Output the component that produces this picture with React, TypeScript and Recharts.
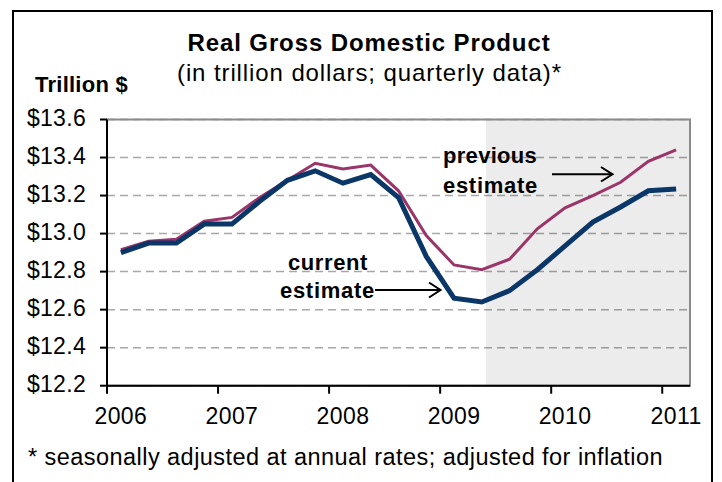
import React from 'react';
import {
  LineChart,
  Line,
  XAxis,
  YAxis,
  CartesianGrid,
  ReferenceArea,
} from 'recharts';

// ---- data ----
const quarters = [
  '2006Q1', '2006Q2', '2006Q3', '2006Q4',
  '2007Q1', '2007Q2', '2007Q3', '2007Q4',
  '2008Q1', '2008Q2', '2008Q3', '2008Q4',
  '2009Q1', '2009Q2', '2009Q3', '2009Q4',
  '2010Q1', '2010Q2', '2010Q3', '2010Q4',
  '2011Q1',
];
const currentEstimate = [
  12.9, 12.95, 12.95, 13.05,
  13.05, 13.17, 13.28, 13.33,
  13.265, 13.31, 13.19, 12.88,
  12.66, 12.64, 12.7, 12.81,
  12.935, 13.06, 13.14, 13.225,
  13.235,
];
const previousEstimate = [
  12.915, 12.96, 12.97, 13.065,
  13.085, 13.19, 13.28, 13.37,
  13.34, 13.36, 13.225, 12.99,
  12.835, 12.81, 12.865, 13.025,
  13.135, 13.2, 13.27, 13.38,
  13.44,
];
const yearLabels = ['2006', '2007', '2008', '2009', '2010', '2011'];
const yearTickPositions = [0, 4, 8, 12, 16, 20];
const yTicks = [12.2, 12.4, 12.6, 12.8, 13.0, 13.2, 13.4, 13.6];
const shadeStart = 13.65; // start of shaded period (in quarter units)

const data = quarters.map((q, i) => ({
  q,
  pos: i + 0.5,
  current: currentEstimate[i],
  previous: previousEstimate[i],
}));

// ---- layout ----
const W = 722;
const H = 482;
const PLOT_LEFT = 107;
const PLOT_RIGHT = 690;
const PLOT_TOP = 119.5;
const PLOT_BOTTOM = 385.7;
const Y_AXIS_W = 80;
const X_AXIS_H = 40;
const HALF_BAND = (PLOT_RIGHT - PLOT_LEFT) / quarters.length / 2;

const FONT = '"Liberation Sans", Arial, sans-serif';
const NAVY = '#0B3768';
const PLUM = '#9B3468';

const XTick = (props: any) => {
  const { x, y, payload } = props;
  const idx = yearTickPositions.indexOf(payload.value);
  return (
    <text
      x={x + HALF_BAND}
      y={y}
      dy="0.71em"
      textAnchor="middle"
      fontFamily={FONT}
      fontSize={23}
      letterSpacing={0.4}
      fill="#000"
    >
      {yearLabels[idx]}
    </text>
  );
};

const YTick = (props: any) => {
  const { x, y, payload } = props;
  return (
    <text
      x={x}
      y={y - 1.5}
      dy="0.355em"
      textAnchor="end"
      fontFamily={FONT}
      fontSize={23}
      letterSpacing={0.3}
      fill="#000"
    >
      {'$' + Number(payload.value).toFixed(1)}
    </text>
  );
};

export default function App() {
  return (
    <div style={{ position: 'absolute', left: 0, top: 0, width: W, height: H, background: '#fff' }}>
      <LineChart
        width={W}
        height={H}
        data={data}
        margin={{
          top: PLOT_TOP,
          right: W - PLOT_RIGHT,
          left: PLOT_LEFT - Y_AXIS_W,
          bottom: H - PLOT_BOTTOM - X_AXIS_H,
        }}
      >
        <ReferenceArea
          x1={shadeStart}
          x2={quarters.length}
          y1={12.2}
          y2={13.6}
          fill="#000"
          fillOpacity={0.075}
          stroke="none"
          isFront={false}
        />
        <CartesianGrid
          vertical={false}
          stroke="#A8A8A8"
          strokeWidth={1.5}
          strokeDasharray="8 5"
        />
        <ReferenceArea
          x1={0}
          x2={quarters.length}
          y1={12.2}
          y2={13.6}
          fill="none"
          stroke="#8A8A8A"
          strokeWidth={2}
        />
        <XAxis
          dataKey="pos"
          type="number"
          domain={[0, quarters.length]}
          ticks={yearTickPositions}
          interval={0}
          height={X_AXIS_H}
          axisLine={{ stroke: '#000', strokeWidth: 2 }}
          tickLine={{ stroke: '#000', strokeWidth: 2 }}
          tickSize={8}
          tickMargin={14}
          tick={<XTick />}
          allowDataOverflow
        />
        <YAxis
          type="number"
          domain={[12.2, 13.6]}
          ticks={yTicks}
          interval={0}
          width={Y_AXIS_W}
          axisLine={{ stroke: '#000', strokeWidth: 2 }}
          tickLine={{ stroke: '#000', strokeWidth: 2 }}
          tickSize={7}
          tickMargin={14}
          tick={<YTick />}
          allowDataOverflow
        />
        <Line
          type="linear"
          dataKey="previous"
          stroke={PLUM}
          strokeWidth={3}
          dot={false}
          activeDot={false}
          isAnimationActive={false}
        />
        <Line
          type="linear"
          dataKey="current"
          stroke={NAVY}
          strokeWidth={5}
          dot={false}
          activeDot={false}
          isAnimationActive={false}
        />
      </LineChart>
      <svg
        width={W}
        height={H}
        style={{ position: 'absolute', left: 0, top: 0, pointerEvents: 'none' }}
      >
        <rect x={13} y={11} width={699} height={500} fill="none" stroke="#000" strokeWidth={2} />
        <text x={369} y={51} textAnchor="middle" fontFamily={FONT} fontWeight="bold" fontSize={24} letterSpacing={0.9} fill="#000">
          Real Gross Domestic Product
        </text>
        <text x={369.5} y={81} textAnchor="middle" fontFamily={FONT} fontSize={24} letterSpacing={0.9} fill="#000">
          (in trillion dollars; quarterly data)*
        </text>
        <text x={35} y={92} fontFamily={FONT} fontWeight="bold" fontSize={22} letterSpacing={0.25} fill="#000">
          Trillion $
        </text>
        <text x={28} y={465} fontFamily={FONT} fontSize={23.5} letterSpacing={0.45} fill="#000">
          * seasonally adjusted at annual rates; adjusted for inflation
        </text>
        <text x={288} y={269.5} fontFamily={FONT} fontWeight="bold" fontSize={22} letterSpacing={0.6} fill="#000">
          current
        </text>
        <text x={280} y={298} fontFamily={FONT} fontWeight="bold" fontSize={22} letterSpacing={0.7} fill="#000">
          estimate
        </text>
        <text x={443} y={163} fontFamily={FONT} fontWeight="bold" fontSize={22} letterSpacing={0.3} fill="#000">
          previous
        </text>
        <text x={443} y={193} fontFamily={FONT} fontWeight="bold" fontSize={22} letterSpacing={0.7} fill="#000">
          estimate
        </text>
        <g stroke="#000" strokeWidth={2} fill="none">
          <line x1={375} y1={290} x2={440} y2={290} />
          <polyline points="429,282.5 440.5,290 429,297.5" />
          <line x1={552} y1={174.3} x2={612} y2={174.3} />
          <polyline points="601,167 612.5,174.3 601,181.5" />
        </g>
      </svg>
    </div>
  );
}
